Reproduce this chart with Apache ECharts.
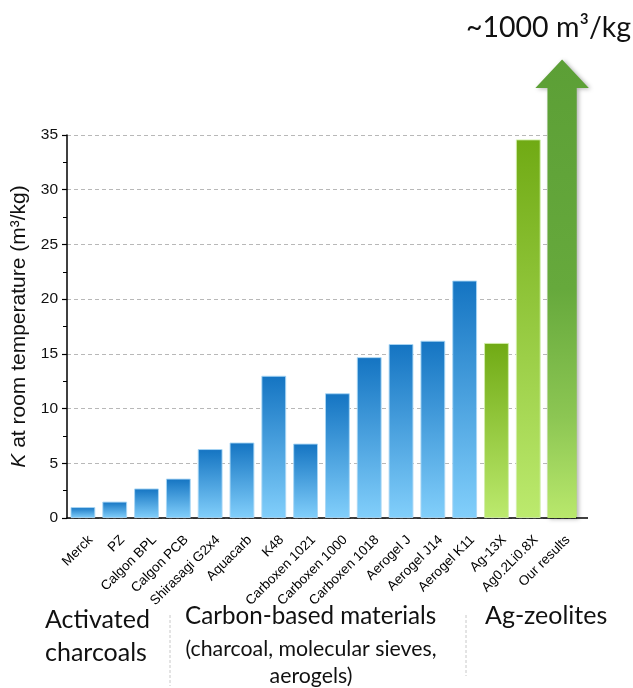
<!DOCTYPE html>
<html><head><meta charset="utf-8">
<script src="https://cdn.jsdelivr.net/npm/echarts@6/dist/echarts.min.js"></script>
<style>html,body{margin:0;padding:0;background:#fff}#c{width:633px;height:688px}</style>
</head><body><div id="c"></div>
<script>
const categories = ['Merck','PZ','Calgon BPL','Calgon PCB','Shirasagi G2x4','Aquacarb','K48','Carboxen 1021','Carboxen 1000','Carboxen 1018','Aerogel J','Aerogel J14','Aerogel K11','Ag-13X','Ag0.2Li0.8X','Our results'];
const values = [1.0, 1.5, 2.7, 3.6, 6.3, 6.9, 13.0, 6.8, 11.4, 14.7, 15.9, 16.2, 21.7, 16.0, 34.6, null];
const groups = ['blue','blue','blue','blue','blue','blue','blue','blue','blue','blue','blue','blue','blue','green','green','arrow'];
const arrowTop = [null,null,null,null,null,null,null,null,null,null,null,null,null,null,null,41.9];
const arrowHeadBase = 39.3;
const yTicks = [0,5,10,15,20,25,30,35];
const groupTitles = ['Activated\ncharcoals', 'Carbon-based materials', 'Ag-zeolites'];
const groupSub = '(charcoal, molecular sieves,\naerogels)';
const arrowLabel = '~1000 m³/kg';

const grad = (a,b) => new echarts.graphic.LinearGradient(0,0,0,1,[{offset:0,color:a},{offset:1,color:b}]);
const barData = values.map((v,i) => {
  if (v == null) return '-';
  const c = groups[i] === 'blue' ? grad('#1474c2', '#82cffb') : grad('#70aa14', '#bcea6e');
  const bc = groups[i] === 'blue' ? 'rgba(170,215,245,0.9)' : 'rgba(210,240,170,0.9)';
  return {value: v, itemStyle: {color: c, borderColor: bc, borderWidth: 1}};
});
const arrowData = arrowTop.map((v,i) => v == null ? null : [i, v]).filter(d => d);

const chart = echarts.init(document.getElementById('c'), null, {renderer:'canvas'});
chart.setOption({
  animation: false,
  grid: {left: 67, top: 135, width: 509, bottom: 170, containLabel: false},
  xAxis: {
    type: 'category', data: categories, boundaryGap: true,
    axisLine: {lineStyle: {color: '#000', width: 1.5}},
    axisTick: {alignWithLabel: true, length: 6, lineStyle: {color: '#222', width: 1.2}},
    axisLabel: {rotate: 45, interval: 0, fontFamily: 'Liberation Sans, Arial', fontSize: 13.5, color: '#000', margin: 12,
      formatter: v => '{a|' + v + '}',
      rich: {a: {fontFamily: 'Liberation Sans, Arial', fontSize: 13.5, color: '#000', padding: [22, 0, 0, 0]}}}
  },
  yAxis: {
    type: 'value', min: 0, max: 35, interval: 5,
    name: '{i|K} at room temperature (m³/kg)',
    nameLocation: 'middle', nameGap: 32, nameRotate: 90,
    nameTextStyle: {fontFamily: 'Liberation Sans, Arial', fontSize: 21, color: '#111',
      rich: {i: {fontFamily: 'Liberation Sans, Arial', fontSize: 21, fontStyle: 'italic', color: '#111'}}},
    axisLine: {show: true, lineStyle: {color: '#000', width: 1.5}},
    axisTick: {show: true, length: 5, lineStyle: {color: '#000', width: 1.2}},
    minorTick: {show: true, splitNumber: 2, length: 4, lineStyle: {color: '#000', width: 1}},
    axisLabel: {fontFamily: 'Liberation Sans, Arial', fontSize: 15.5, color: '#111', margin: 9,
      formatter: v => yTicks.includes(v) ? String(v) : ''},
    splitLine: {show: true, lineStyle: {color: '#b8b8b8', type: [4,3], width: 1}}
  },
  series: [
    {type: 'bar', data: barData, barCategoryGap: '22%', z: 2},
    {type: 'custom', data: arrowData, z: 3, clip: false,
     renderItem: (params, api) => {
       const idx = api.value(0);
       const base = api.coord([idx, 0]);
       const tip = api.coord([idx, api.value(1)]);
       const hb = api.coord([idx, arrowHeadBase]);
       const band = api.size([1, 0])[0];
       const sw = band * 0.46, hw = band * 0.84;
       const cx = base[0] + 2;
       return {
         type: 'polygon',
         shape: {points: [
           [cx - sw, base[1]], [cx - sw, hb[1]], [cx - hw, hb[1]], [cx, tip[1]],
           [cx + hw, hb[1]], [cx + sw, hb[1]], [cx + sw, base[1]]
         ]},
         style: {
           fill: new echarts.graphic.LinearGradient(0,0,0,1,[
             {offset:0,color:'#5c9f36'},{offset:0.5,color:'#66a93c'},{offset:0.78,color:'#8cc653'},{offset:1,color:'#b9e86c'}]),
           shadowBlur: 4, shadowColor: 'rgba(0,0,0,0.3)', shadowOffsetX: 2, shadowOffsetY: 1
         }
       };
     }}
  ],
  graphic: [
    {type: 'line', shape: {x1: 576, y1: 518, x2: 588, y2: 518}, style: {stroke: '#000', lineWidth: 1.5}, z: 5},
    {type: 'text', left: 466, top: 13, style: {text: arrowLabel, fontFamily: 'Lato', fontSize: 28.5, fill: '#111'}},
    {type: 'text', left: 45, top: 603, style: {text: groupTitles[0], fontFamily: 'Lato', fontSize: 25, lineHeight: 33, fill: '#111'}},
    {type: 'text', left: 185, top: 604, style: {text: groupTitles[1], fontFamily: 'Lato', fontSize: 24.2, fill: '#111'}},
    {type: 'text', x: 311, y: 636, style: {text: groupSub, fontFamily: 'Lato', fontSize: 21.3, lineHeight: 27, fill: '#111', align: 'center'}},
    {type: 'text', left: 485, top: 603, style: {text: groupTitles[2], fontFamily: 'Lato', fontSize: 25, fill: '#111'}},
    {type: 'line', shape: {x1: 170, y1: 615, x2: 170, y2: 686}, style: {stroke: '#c8c8c8', lineWidth: 1, lineDash: [3,2]}},
    {type: 'line', shape: {x1: 466, y1: 615, x2: 466, y2: 676}, style: {stroke: '#c8c8c8', lineWidth: 1, lineDash: [3,2]}}
  ]
});
</script></body></html>
